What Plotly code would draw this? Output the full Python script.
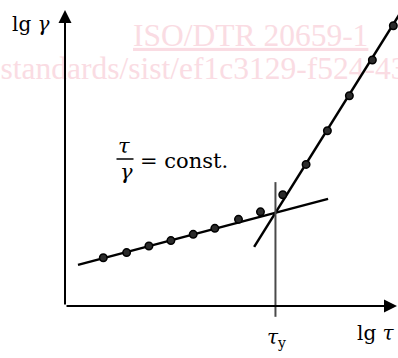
import plotly.graph_objects as go

# Measured points (lg tau, lg gamma) in arbitrary log units
low_x = [1.15, 1.85, 2.52, 3.18, 3.85, 4.50, 5.21, 5.87]
low_y = [1.61, 1.78, 2.00, 2.18, 2.39, 2.59, 2.89, 3.14]
high_x = [6.54, 7.24, 7.88, 8.54, 9.23, 9.86]
high_y = [3.71, 4.72, 5.84, 7.01, 8.20, 9.34]

# Straight-line fits of the two regimes
fit_low_x = [0.39, 7.90]
fit_low_y = [1.37, 3.57]
fit_high_x = [5.68, 10.10]
fit_high_y = [1.97, 9.82]

# Yield stress marker
tau_y = 6.32
tau_y_span = [-0.36, 4.13]

X_RANGE = [-1.952, 10.0]
Y_RANGE = [-1.733, 10.2]
W, H = 398, 358

SERIF = "DejaVu Serif"
WM_FONT = "Liberation Serif"
INK = "#000000"
WM = "rgb(250,220,227)"


def px(x):
    return x / W


def py(y):
    return 1 - y / H


def to_x(p):
    return px(p) * (X_RANGE[1] - X_RANGE[0]) + X_RANGE[0]


def to_y(p):
    return py(p) * (Y_RANGE[1] - Y_RANGE[0]) + Y_RANGE[0]


fig = go.Figure()

# faint watermark text behind the chart
fig.add_trace(go.Scatter(
    x=[to_x(133), to_x(0.5)],
    y=[to_y(38), to_y(71)],
    mode="text",
    text=["<u>ISO/DTR 20659-1</u>", "standards/sist/ef1c3129-f524-43"],
    textposition="middle right",
    textfont=dict(family=WM_FONT, size=31.5, color=WM),
    hoverinfo="skip", showlegend=False, cliponaxis=False,
))

line_style = dict(color=INK, width=2.5)
fig.add_trace(go.Scatter(x=fit_low_x, y=fit_low_y, mode="lines",
                         line=line_style, showlegend=False))
fig.add_trace(go.Scatter(x=fit_high_x, y=fit_high_y, mode="lines",
                         line=line_style, showlegend=False))
fig.add_trace(go.Scatter(x=[tau_y, tau_y], y=tau_y_span, mode="lines",
                         line=dict(color="#4a4a4a", width=2), showlegend=False))

marker_style = dict(size=7.5, color="#2b2b2b", line=dict(color=INK, width=1.5))
fig.add_trace(go.Scatter(x=low_x, y=low_y, mode="markers",
                         marker=marker_style, showlegend=False))
fig.add_trace(go.Scatter(x=high_x, y=high_y, mode="markers",
                         marker=marker_style, showlegend=False))

annotations = []
# axis arrows
x_tip = X_RANGE[1] - 0.03
y_tip = (306 - 10) / 30
for tip, tail in (((0, y_tip), (0, 0)), ((x_tip, 0), (0, 0))):
    annotations.append(dict(
        x=tip[0], y=tip[1], ax=tail[0], ay=tail[1],
        xref="x", yref="y", axref="x", ayref="y",
        showarrow=True, arrowhead=2, arrowsize=1.3, arrowwidth=2,
        arrowcolor=INK, standoff=0, text="",
    ))


def label(text, x, y, size=20, xanchor="center"):
    annotations.append(dict(
        text=text, x=px(x), y=py(y), xref="paper", yref="paper",
        showarrow=False, xanchor=xanchor, yanchor="middle",
        font=dict(family=SERIF, size=size, color=INK),
    ))


label("lg <i>γ</i>", 31, 24)
label("lg <i>τ</i>", 376, 333)
label("<i>τ</i><sub>y</sub>", 276, 338)
label("<i>τ</i>", 124, 146, size=21)
label("<i>γ</i>", 126, 172, size=21)
label("= const.", 138, 161, size=21, xanchor="left")

fig.add_shape(type="line", xref="paper", yref="paper",
              x0=px(116.5), x1=px(133.5), y0=py(159), y1=py(159),
              line=dict(color=INK, width=1.5))

fig.update_layout(
    width=W, height=H,
    margin=dict(l=0, r=0, t=0, b=0),
    paper_bgcolor="white", plot_bgcolor="white",
    xaxis=dict(range=X_RANGE, visible=False, fixedrange=True),
    yaxis=dict(range=Y_RANGE, visible=False, fixedrange=True),
    annotations=annotations,
)

fig.write_html("out.html")
